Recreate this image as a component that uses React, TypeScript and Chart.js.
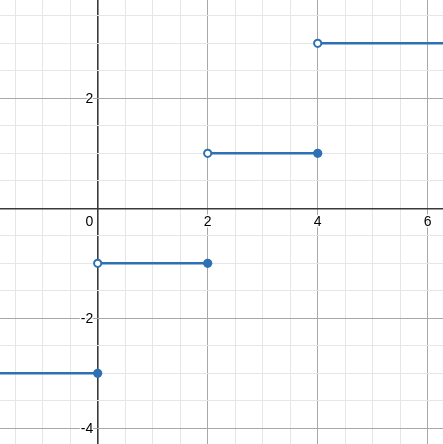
import React, { useEffect, useRef } from "react";
import { Chart, registerables } from "chart.js";

Chart.register(...registerables);

const X_MIN = -1.776;
const X_MAX = 6.278;
const Y_MIN = -4.285;
const Y_MAX = 3.787;

// step segments: [xStart, xEnd, y]
const segStartX = [-3, 0, 2, 4];
const segEndX = [0, 2, 4, 9];
const segY = [-3, -1, 1, 3];

const closedPtsX = [0, 2, 4];
const closedPtsY = [-3, -1, 1];
const openPtsX = [0, 2, 4];
const openPtsY = [-1, 1, 3];

const xTickLabels = [0, 2, 4, 6];
const yTickLabels = [2, -2, -4];

const BLUE = "#2d70b3";

function gridColor(v: number) {
  const r = Math.round(v * 1000) / 1000;
  if (Math.abs(r) < 1e-6) return "#3a3a3a";
  if (Math.abs(r % 2) < 1e-6) return "#a8a8a8";
  return "#e6e6e6";
}
function gridWidth(v: number) {
  const r = Math.round(v * 1000) / 1000;
  if (Math.abs(r) < 1e-6) return 1.6;
  return 1;
}

const labelPlugin = {
  id: "axisLabels",
  beforeDatasetsDraw(chart: any) {
    const ctx = chart.ctx;
    const xs = chart.scales.x;
    const ys = chart.scales.y;
    const x0 = xs.getPixelForValue(0);
    const y0 = ys.getPixelForValue(0);
    ctx.save();
    ctx.font = "14px 'Liberation Sans', Arial, sans-serif";
    ctx.lineJoin = "round";
    const draw = (t: string, x: number, y: number, align: CanvasTextAlign) => {
      ctx.textAlign = align;
      ctx.textBaseline = "alphabetic";
      ctx.strokeStyle = "rgba(255,255,255,0.9)";
      ctx.lineWidth = 3;
      ctx.strokeText(t, x, y);
      ctx.fillStyle = "#000";
      ctx.fillText(t, x, y);
    };
    xTickLabels.forEach((v) => {
      const px = xs.getPixelForValue(v);
      if (v === 0) draw(String(v), x0 - 4.5, y0 + 18, "right");
      else draw(String(v), px, y0 + 18, "center");
    });
    yTickLabels.forEach((v) => {
      const py = ys.getPixelForValue(v);
      draw(String(v), x0 - 4.5, py + 5, "right");
    });
    ctx.restore();
  },
};

export default function App() {
  const ref = useRef<HTMLCanvasElement>(null);
  useEffect(() => {
    document.body.style.margin = "0";
    const lineSets = segY.map((y, i) => ({
      type: "line" as const,
      data: [
        { x: segStartX[i], y },
        { x: segEndX[i], y },
      ],
      borderColor: BLUE,
      borderWidth: 2.6,
      pointRadius: 0,
      fill: false,
      order: 3,
    }));
    const chart = new Chart(ref.current!, {
      type: "scatter",
      data: {
        datasets: [
          {
            type: "scatter",
            data: openPtsX.map((x, i) => ({ x, y: openPtsY[i] })),
            pointRadius: 3.6,
            pointBackgroundColor: "#fff",
            pointBorderColor: BLUE,
            pointBorderWidth: 2,
            order: 1,
          } as any,
          {
            type: "scatter",
            data: closedPtsX.map((x, i) => ({ x, y: closedPtsY[i] })),
            pointRadius: 4.6,
            pointBackgroundColor: BLUE,
            pointBorderColor: BLUE,
            pointBorderWidth: 0,
            order: 2,
          } as any,
          ...lineSets,
        ],
      },
      options: {
        responsive: false,
        animation: false,
        events: [],
        layout: { padding: 0, autoPadding: false },
        plugins: {
          legend: { display: false },
          tooltip: { enabled: false },
        },
        scales: {
          x: {
            type: "linear",
            min: X_MIN,
            max: X_MAX,
            border: { display: false },
            grid: {
              drawTicks: false,
              color: (c: any) => gridColor(c.tick.value),
              lineWidth: (c: any) => gridWidth(c.tick.value),
            },
            ticks: {
              display: false,
              stepSize: 0.5,
              includeBounds: false,
              maxTicksLimit: 200,
              autoSkip: false,
            },
          },
          y: {
            type: "linear",
            min: Y_MIN,
            max: Y_MAX,
            border: { display: false },
            grid: {
              drawTicks: false,
              color: (c: any) => gridColor(c.tick.value),
              lineWidth: (c: any) => gridWidth(c.tick.value),
            },
            ticks: {
              display: false,
              stepSize: 0.5,
              includeBounds: false,
              maxTicksLimit: 200,
              autoSkip: false,
            },
          },
        },
      },
      plugins: [labelPlugin],
    });
    return () => chart.destroy();
  }, []);
  return (
    <div style={{ position: "absolute", left: 0, top: 0, width: 443, height: 444, background: "#fff" }}>
      <canvas ref={ref} width={443} height={444} />
    </div>
  );
}
